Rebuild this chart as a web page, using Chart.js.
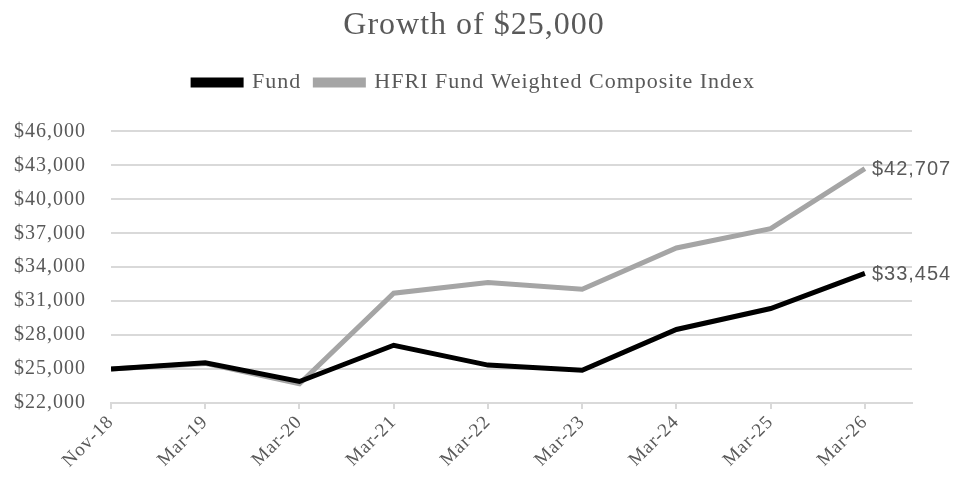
<!DOCTYPE html>
<html>
<head>
<meta charset="utf-8">
<script src="https://cdn.jsdelivr.net/npm/chart.js@4/dist/chart.umd.min.js"></script>
<style>
  html, body { margin: 0; padding: 0; background: #fff; }
  #wrap { width: 953px; height: 478px; }
</style>
</head>
<body>
<div id="wrap"><canvas id="growthChart" width="953" height="478"></canvas></div>
<script>
// values
const periods = ["Nov-18", "Mar-19", "Mar-20", "Mar-21", "Mar-22", "Mar-23", "Mar-24", "Mar-25", "Mar-26"];
const fundValues = [25000, 25550, 23900, 27100, 25350, 24900, 28500, 30350, 33454];
const indexValues = [25000, 25500, 23700, 31700, 32650, 32050, 35700, 37400, 42707];
const yTicks = [22000, 25000, 28000, 31000, 34000, 37000, 40000, 43000, 46000];

const grey = "#595959";
const gridColor = "#D9D9D9";
const serif = "'Liberation Serif', 'Times New Roman', serif";
const money = v => "$" + Math.round(v).toLocaleString("en-US");

// the reference text is set a bit wide, so loosen letters everywhere
const wideText = {
    id: "wideText",
    beforeLayout(chart) { chart.ctx.letterSpacing = "1px"; },
    beforeDraw(chart) { chart.ctx.letterSpacing = "1px"; }
};

// more room between legend and plot area
const legendGap = {
    id: "legendGap",
    beforeInit(chart) {
        const fit = chart.legend.fit;
        chart.legend.fit = function () {
            fit.call(this);
            this.height += 28;
        };
    }
};

// last value written next to the end of each line
const endLabels = {
    id: "endLabels",
    afterDatasetsDraw(chart) {
        const ctx = chart.ctx;
        ctx.save();
        ctx.font = "20px 'Liberation Sans', Arial, sans-serif";
        ctx.fillStyle = grey;
        ctx.textBaseline = "middle";
        ctx.textAlign = "left";
        chart.data.datasets.forEach((ds, i) => {
            const meta = chart.getDatasetMeta(i);
            const last = meta.data[meta.data.length - 1];
            ctx.fillText(money(ds.data[ds.data.length - 1].y), last.x + 7, last.y + 1);
        });
        ctx.restore();
    }
};

new Chart(document.getElementById("growthChart").getContext("2d"), {
    type: "line",
    data: {
        datasets: [{
            label: "Fund",
            data: fundValues.map((v, i) => ({ x: i, y: v })),
            borderColor: "#000000",
            backgroundColor: "#000000",
            borderWidth: 5,
            pointRadius: 0,
            tension: 0
        }, {
            label: "HFRI Fund Weighted Composite Index",
            data: indexValues.map((v, i) => ({ x: i, y: v })),
            borderColor: "#A5A5A5",
            backgroundColor: "#A5A5A5",
            borderWidth: 5,
            pointRadius: 0,
            tension: 0
        }]
    },
    options: {
        responsive: false,
        animation: false,
        layout: { padding: { left: 0, right: 5, top: 0, bottom: 0 } },
        plugins: {
            title: {
                display: true,
                text: "Growth of $25,000",
                color: grey,
                font: { family: serif, size: 32, weight: "normal" },
                padding: { top: 6, bottom: 13 }
            },
            legend: {
                display: true,
                labels: {
                    color: grey,
                    boxWidth: 48,
                    boxHeight: 5,
                    padding: 14,
                    font: { family: serif, size: 22 }
                }
            },
            tooltip: { enabled: false }
        },
        scales: {
            x: {
                type: "linear",
                min: 0,
                max: 8.5,
                afterBuildTicks: axis => { axis.ticks = periods.map((p, i) => ({ value: i })); },
                ticks: {
                    autoSkip: false,
                    minRotation: 45,
                    maxRotation: 45,
                    color: grey,
                    padding: 2,
                    font: { family: serif, size: 19 },
                    callback: v => periods[v] || ""
                },
                grid: { drawOnChartArea: false, color: gridColor, lineWidth: 2, tickLength: 6 },
                border: { display: true, color: gridColor, width: 2 },
                afterFit: axis => { axis.height = 75; }
            },
            y: {
                min: 22000,
                max: 46000,
                afterBuildTicks: axis => { axis.ticks = yTicks.map(v => ({ value: v })); },
                ticks: {
                    color: grey,
                    padding: 25,
                    font: { family: serif, size: 20 },
                    callback: v => money(v)
                },
                grid: { color: gridColor, lineWidth: 2, drawTicks: false },
                border: { display: false },
                afterFit: axis => { axis.width = 111; }
            },
            // empty right-hand axis, only keeps room for the end labels
            yRight: {
                position: "right",
                min: 22000,
                max: 46000,
                ticks: { display: false },
                grid: { display: false },
                border: { display: false },
                afterFit: axis => { axis.width = 36; }
            }
        }
    },
    plugins: [wideText, legendGap, endLabels]
});
</script>
</body>
</html>
